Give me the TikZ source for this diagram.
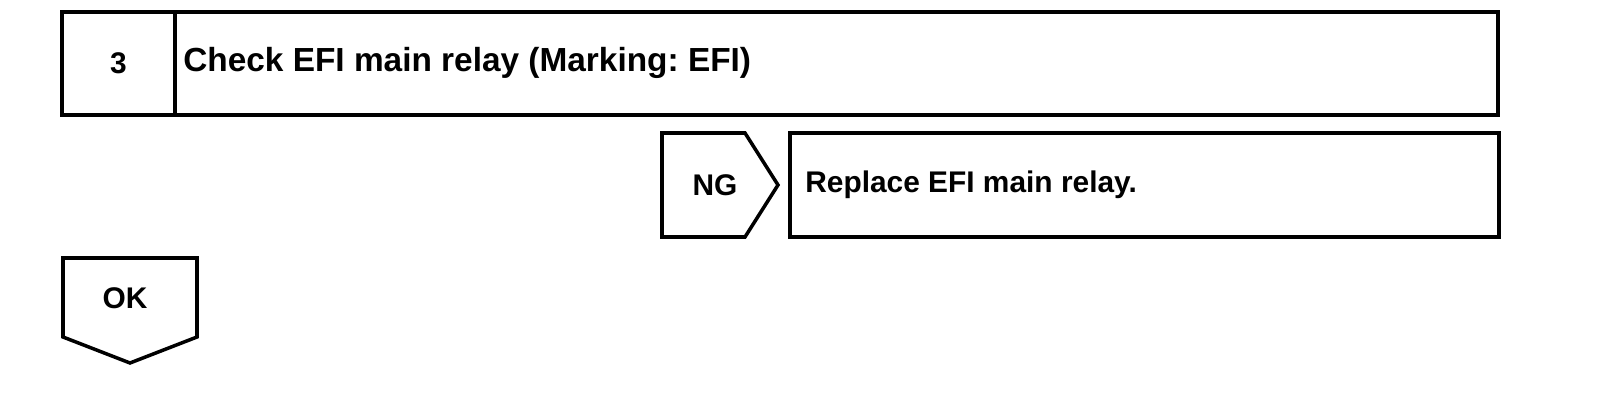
\documentclass[tikz,border=0pt]{standalone}
\usepackage{fontspec}
\setmainfont{Liberation Sans}
\frenchspacing
\tikzset{
  frame/.style={line width=2pt, line join=miter},
  label/.style={font=\fontsize{17}{20}\selectfont\bfseries, inner sep=0pt},
  title/.style={font=\fontsize{19}{22}\selectfont\bfseries, inner sep=0pt}
}
\begin{document}
\begin{tikzpicture}
      \useasboundingbox (0,0) rectangle (32,8.2);
      % step box
      \draw[frame] (1.24,5.9) rectangle (29.96,7.96);
      \draw[frame] (3.5,5.9) -- (3.5,7.96);
      \node[label] (num) at (2.37,6.94) {3};
      \node[title, anchor=west] (check) at (3.66,6.94) {Check EFI main relay (Marking: EFI)};
      % NG branch
      \draw[frame] (13.24,5.54) -- (14.9,5.54) -- (15.56,4.5) -- (14.9,3.46) -- (13.24,3.46) -- cycle;
      \node[label] (ng) at (14.3,4.5) {NG};
      \draw[frame] (15.8,3.46) rectangle (29.98,5.54);
      \node[label, anchor=west] (replace) at (16.1,4.5) {Replace EFI main relay.};
      % OK branch
      \draw[frame] (1.26,3.04) -- (3.94,3.04) -- (3.94,1.46) -- (2.6,0.94) -- (1.26,1.46) -- cycle;
      \node[label] (ok) at (2.5,2.24) {OK};
    \end{tikzpicture}
\end{document}
